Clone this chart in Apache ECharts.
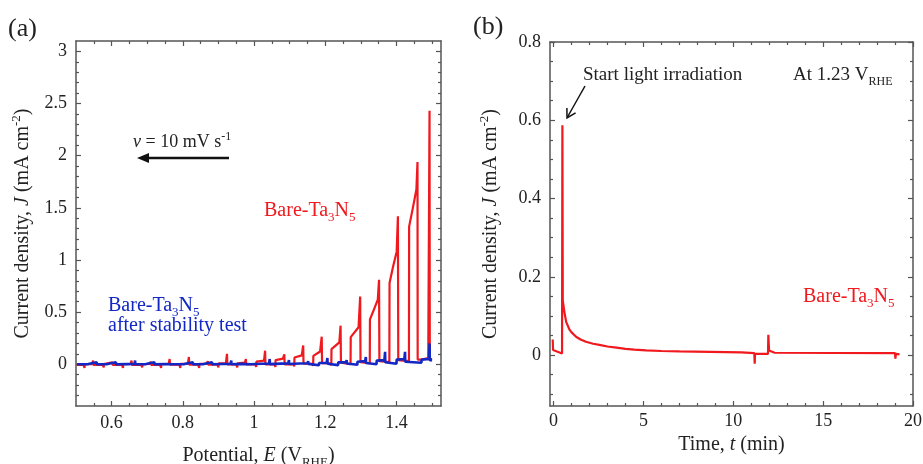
<!DOCTYPE html>
<html><head><meta charset="utf-8">
<script src="https://cdn.jsdelivr.net/npm/echarts@6/dist/echarts.min.js"></script>
<style>html,body{margin:0;padding:0;background:#fff}#c{width:923px;height:464px}</style>
</head><body><div id="c"></div>
<script>
// ---------- tick values / labels ----------
const potentialTicks = [0.6, 0.8, 1.0, 1.2, 1.4];
const potentialMinorTicks = [0.55, 0.65, 0.7, 0.75, 0.85, 0.9, 0.95, 1.05, 1.1, 1.15, 1.25, 1.3, 1.35, 1.45, 1.5];
const currentTicksA = [0, 0.5, 1, 1.5, 2, 2.5, 3];
const currentMinorTicksA = [-0.3, -0.2, -0.1, 0.1, 0.2, 0.3, 0.4, 0.6, 0.7, 0.8, 0.9, 1.1, 1.2, 1.3, 1.4, 1.6, 1.7, 1.8, 1.9, 2.1, 2.2, 2.3, 2.4, 2.6, 2.7, 2.8, 2.9];
const timeTicks = [0, 5, 10, 15, 20];
const timeMinorTicks = [1, 2, 3, 4, 6, 7, 8, 9, 11, 12, 13, 14, 16, 17, 18, 19];
const currentTicksB = [0, 0.2, 0.4, 0.6, 0.8];
const currentMinorTicksB = [-0.1, -0.05, 0.05, 0.1, 0.15, 0.25, 0.3, 0.35, 0.45, 0.5, 0.55, 0.65, 0.7, 0.75];

// ---------- (a) chopped LSV, Bare-Ta3N5: [E (V_RHE), J (mA cm-2)] ----------
const bareLSV = [
  [1.500, 0.05], [1.4935, 0.05], [1.4928, 2.43], [1.4892, 0.06],
  [1.470, 0.045], [1.4595, 0.045],
  [1.459, 1.94], [1.456, 1.68], [1.446, 1.50], [1.4355, 1.32], [1.435, 0.03], [1.432, 0.04],
  [1.405, 0.04],
  [1.404, 1.42], [1.4005, 1.08], [1.390, 0.93], [1.3805, 0.78], [1.380, 0.02], [1.377, 0.03],
  [1.352, 0.03],
  [1.351, 0.81], [1.3475, 0.62], [1.336, 0.52], [1.3255, 0.43], [1.325, 0.01], [1.322, 0.02],
  [1.299, 0.02],
  [1.298, 0.65], [1.2935, 0.355], [1.2715, 0.26], [1.271, 0.0], [1.268, 0.015],
  [1.244, 0.015],
  [1.243, 0.37], [1.2395, 0.21], [1.2175, 0.145], [1.217, -0.01], [1.214, 0.01],
  [1.191, 0.01],
  [1.190, 0.265], [1.1855, 0.123], [1.1665, 0.08], [1.166, -0.015], [1.163, 0.005],
  [1.139, 0.005],
  [1.138, 0.18], [1.134, 0.085], [1.1135, 0.065], [1.113, -0.02], [1.110, 0.0],
  [1.086, 0.0],
  [1.085, 0.095], [1.081, 0.055], [1.0605, 0.04], [1.060, -0.025], [1.057, 0.0],
  [1.032, 0.0],
  [1.031, 0.13], [1.028, 0.035], [1.0065, 0.025], [1.006, -0.025], [1.003, 0.0],
  [0.978, 0.0],
  [0.977, 0.05], [0.974, 0.015], [0.9535, 0.01], [0.953, -0.03], [0.950, -0.002],
  [0.925, -0.002],
  [0.924, 0.10], [0.921, 0.01], [0.9005, 0.008], [0.900, -0.03], [0.897, -0.003],
  [0.871, -0.003],
  [0.870, 0.03], [0.867, 0.005], [0.8465, 0.004], [0.846, -0.035], [0.843, -0.004],
  [0.818, -0.004],
  [0.817, 0.07], [0.814, 0.005], [0.7935, 0.003], [0.793, -0.035], [0.790, -0.004],
  [0.764, -0.004],
  [0.763, 0.05], [0.760, 0.004], [0.7395, 0.002], [0.739, -0.035], [0.736, -0.005],
  [0.711, -0.005],
  [0.710, 0.025], [0.707, 0.003], [0.6865, 0.002], [0.686, -0.03], [0.683, -0.005],
  [0.657, -0.005],
  [0.656, 0.036], [0.653, 0.003], [0.6325, 0.002], [0.632, -0.035], [0.629, -0.005],
  [0.603, -0.005],
  [0.602, 0.02], [0.599, 0.002], [0.5785, 0.001], [0.578, -0.03], [0.575, -0.005],
  [0.549, -0.005],
  [0.548, 0.036], [0.545, 0.002], [0.5245, 0.001], [0.524, -0.035], [0.521, -0.005],
  [0.502, -0.005]
];

// ---------- (a) Bare-Ta3N5 after stability test ----------
const afterStabilityLSV = [
  [1.500, 0.04], [1.4935, 0.04], [1.493, 0.20], [1.491, 0.05], [1.4705, 0.045], [1.470, 0.015], [1.467, 0.03],
  [1.4245, 0.025], [1.424, 0.12], [1.422, 0.05], [1.4005, 0.045], [1.400, 0.005], [1.397, 0.02],
  [1.3685, 0.02], [1.368, 0.12], [1.366, 0.04], [1.3445, 0.035], [1.344, 0.0], [1.341, 0.015],
  [1.3145, 0.012], [1.314, 0.07], [1.312, 0.03], [1.2905, 0.025], [1.290, -0.005], [1.287, 0.01],
  [1.2605, 0.008], [1.260, 0.04], [1.258, 0.02], [1.2365, 0.018], [1.236, -0.008], [1.233, 0.006],
  [1.2065, 0.005], [1.206, 0.06], [1.204, 0.015], [1.1825, 0.012], [1.182, -0.01], [1.179, 0.004],
  [1.1525, 0.004], [1.152, 0.03], [1.150, 0.01], [1.1285, 0.008], [1.128, -0.01], [1.125, 0.003],
  [1.0985, 0.003], [1.098, 0.04], [1.096, 0.008], [1.0745, 0.006], [1.074, -0.012], [1.071, 0.002],
  [1.0445, 0.002], [1.044, 0.05], [1.042, 0.006], [1.0205, 0.005], [1.020, -0.012], [1.017, 0.001],
  [0.9905, 0.001], [0.990, 0.02], [0.988, 0.005], [0.9665, 0.004], [0.966, -0.012], [0.963, 0.0],
  [0.9365, 0.0], [0.936, 0.035], [0.934, 0.004], [0.9125, 0.003], [0.912, -0.012], [0.909, 0.0],
  [0.8825, 0.0], [0.882, 0.02], [0.880, 0.003], [0.8585, 0.002], [0.858, -0.012], [0.855, 0.0],
  [0.8285, 0.0], [0.828, 0.02], [0.826, 0.003], [0.8045, 0.002], [0.804, -0.012], [0.801, 0.0],
  [0.7745, 0.0], [0.774, 0.015], [0.772, 0.003], [0.7505, 0.002], [0.750, -0.012], [0.747, 0.0],
  [0.7205, 0.0], [0.720, 0.02], [0.718, 0.003], [0.6965, 0.002], [0.696, -0.012], [0.693, 0.0],
  [0.6665, 0.0], [0.666, 0.035], [0.664, 0.003], [0.6425, 0.002], [0.642, -0.012], [0.639, 0.0],
  [0.6125, 0.0], [0.612, 0.02], [0.610, 0.003], [0.5885, 0.002], [0.588, -0.012], [0.585, 0.0],
  [0.5585, 0.0], [0.558, 0.02], [0.556, 0.003], [0.5345, 0.002], [0.534, -0.012], [0.531, 0.0],
  [0.503, 0.0]
];

// ---------- (b) chronoamperometry at 1.23 V_RHE: [t (min), J (mA cm-2)] ----------
const bareCA = [
  [-0.05, 0.04], [-0.03, 0.013], [0.47, 0.004], [0.49, 0.587], [0.51, 0.14],
  [0.6, 0.11], [0.7, 0.085], [0.875, 0.066], [1.0, 0.058], [1.25, 0.047], [1.5, 0.04],
  [1.8, 0.034], [2.2, 0.029], [2.55, 0.026], [3.0, 0.022], [3.5, 0.019], [4.0, 0.016],
  [4.5, 0.014], [5.15, 0.012], [6.0, 0.0105], [7.0, 0.0094], [7.05, 0.0075], [10.45, 0.0068],
  [10.5, 0.0055], [11.17, 0.005], [11.19, -0.022], [11.21, 0.003], [11.93, 0.003], [11.95, 0.052],
  [11.99, 0.012], [12.3, 0.006], [19.0, 0.005], [19.02, -0.009], [19.05, 0.003], [19.25, 0.002]
];

// ---------- styling ----------
const FONT = 'Liberation Serif';
const FRAME = '#555';
const RED = '#f0191e';
const BLUE = '#1227c4';
const TXT = '#222';

function rich(size, color) {
  const lh = Math.round(size * 1.3), s = Math.round(size * 0.65);
  return {
    n: { fontFamily: FONT, fontSize: size, color, fill: color, lineHeight: lh },
    i: { fontFamily: FONT, fontSize: size, color, fill: color, fontStyle: 'italic', lineHeight: lh },
    sub: { fontFamily: FONT, fontSize: s, color, fill: color, verticalAlign: 'bottom', lineHeight: s },
    sup: { fontFamily: FONT, fontSize: s, color, fill: color, verticalAlign: 'top', lineHeight: s }
  };
}

function fmt(v) { return String(Math.round(v * 1000) / 1000); }

function ax(gridIndex, min, max, position, ticks, len, extra) {
  return Object.assign({
    type: 'value', gridIndex, min, max, position,
    axisLine: { show: false, onZero: false },
    splitLine: { show: false },
    axisTick: { show: true, inside: true, length: len, customValues: ticks, lineStyle: { color: FRAME, width: 1.2 } },
    axisLabel: { show: false },
    silent: true
  }, extra || {});
}
function mainAx(gridIndex, min, max, position, ticks, labelMargin, name, nameGap) {
  return ax(gridIndex, min, max, position, ticks, 5, {
    axisLine: { show: true, onZero: false, lineStyle: { color: FRAME, width: 1.5 } },
    axisLabel: { show: true, customValues: ticks, formatter: fmt, fontFamily: FONT, fontSize: 18, color: TXT, margin: labelMargin },
    name, nameLocation: 'middle', nameGap, nameTextStyle: { rich: rich(20, TXT) }
  });
}
function frameAx(gridIndex, min, max, position, ticks) {
  return ax(gridIndex, min, max, position, ticks, 5, {
    axisLine: { show: true, onZero: false, lineStyle: { color: FRAME, width: 1.5 } }
  });
}

const aX = [0.5, 1.525], aY = [-0.4, 3.1];
const bX = [-0.2, 20], bY = [-0.13, 0.8];
const nameY = '{n|Current density, }{i|J}{n| (mA cm}{sup|-2}{n|)}';

const option = {
  animation: false,
  backgroundColor: '#fff',
  grid: [
    { left: 76, top: 41, width: 365, height: 365, containLabel: false, outerBoundsMode: 'none' },
    { left: 550, top: 42, width: 363, height: 364, containLabel: false, outerBoundsMode: 'none' }
  ],
  xAxis: [
    mainAx(0, aX[0], aX[1], 'bottom', potentialTicks, 8, '{n|Potential, }{i|E}{n| (V}{sub|RHE}{n|)}', 37), // 0
    ax(0, aX[0], aX[1], 'bottom', potentialMinorTicks, 3),
    frameAx(0, aX[0], aX[1], 'top', potentialTicks),
    ax(0, aX[0], aX[1], 'top', potentialMinorTicks, 3),
    mainAx(1, bX[0], bX[1], 'bottom', timeTicks, 6, '{n|Time, }{i|t}{n| (min)}', 25),                      // 4
    ax(1, bX[0], bX[1], 'bottom', timeMinorTicks, 3),
    frameAx(1, bX[0], bX[1], 'top', timeTicks),
    ax(1, bX[0], bX[1], 'top', timeMinorTicks, 3)
  ],
  yAxis: [
    mainAx(0, aY[0], aY[1], 'left', currentTicksA, 9, nameY, 40),                                         // 0
    ax(0, aY[0], aY[1], 'left', currentMinorTicksA, 3),
    frameAx(0, aY[0], aY[1], 'right', currentTicksA),
    ax(0, aY[0], aY[1], 'right', currentMinorTicksA, 3),
    mainAx(1, bY[0], bY[1], 'left', currentTicksB, 9, nameY, 46),                                         // 4
    ax(1, bY[0], bY[1], 'left', currentMinorTicksB, 3),
    frameAx(1, bY[0], bY[1], 'right', currentTicksB),
    ax(1, bY[0], bY[1], 'right', currentMinorTicksB, 3)
  ],
  series: [
    { name: 'Bare-Ta3N5', type: 'line', xAxisIndex: 0, yAxisIndex: 0, data: bareLSV, showSymbol: false, symbol: 'none',
      lineStyle: { color: RED, width: 2.2 }, z: 2, clip: true },
    { name: 'Bare-Ta3N5 after stability test', type: 'line', xAxisIndex: 0, yAxisIndex: 0, data: afterStabilityLSV, showSymbol: false, symbol: 'none',
      lineStyle: { color: BLUE, width: 2.6 }, z: 3, clip: true },
    { name: 'Bare-Ta3N5 CA', type: 'line', xAxisIndex: 4, yAxisIndex: 4, data: bareCA, showSymbol: false, symbol: 'none',
      lineStyle: { color: RED, width: 2.2 }, z: 2, clip: true }
  ],
  graphic: [
    { type: 'text', x: 8, y: 29, style: { text: '(a)', font: '26px "Liberation Serif"', fill: TXT, verticalAlign: 'middle' } },
    { type: 'text', x: 473, y: 27, style: { text: '(b)', font: '26px "Liberation Serif"', fill: TXT, verticalAlign: 'middle' } },
    { type: 'text', x: 133, y: 142, style: { text: '{i|v}{n| = 10 mV s}{sup|-1}', rich: rich(18, TXT), verticalAlign: 'middle' } },
    { type: 'line', shape: { x1: 229, y1: 158, x2: 146, y2: 158 }, style: { stroke: '#111', lineWidth: 2.5 } },
    { type: 'polygon', shape: { points: [[137, 158], [149, 153], [149, 163]] }, style: { fill: '#111' } },
    { type: 'text', x: 264, y: 211, style: { text: '{n|Bare-Ta}{sub|3}{n|N}{sub|5}', rich: rich(20, RED), fill: RED, verticalAlign: 'middle' } },
    { type: 'text', x: 108, y: 306, style: { text: '{n|Bare-Ta}{sub|3}{n|N}{sub|5}', rich: rich(20, BLUE), fill: BLUE, verticalAlign: 'middle' } },
    { type: 'text', x: 108, y: 326, style: { text: 'after stability test', font: '20px "Liberation Serif"', fill: BLUE, verticalAlign: 'middle' } },
    { type: 'text', x: 583, y: 75, style: { text: 'Start light irradiation', font: '19px "Liberation Serif"', fill: TXT, verticalAlign: 'middle' } },
    { type: 'text', x: 793, y: 75, style: { text: '{n|At 1.23 V}{sub|RHE}', rich: rich(19, TXT), verticalAlign: 'middle' } },
    { type: 'line', shape: { x1: 585, y1: 86, x2: 567.5, y2: 117 }, style: { stroke: '#111', lineWidth: 1.5 } },
    { type: 'polyline', shape: { points: [[575.6, 112.9], [567, 118], [566.9, 108]] }, style: { stroke: '#111', lineWidth: 1.5, fill: null } },
    { type: 'text', x: 803, y: 297, style: { text: '{n|Bare-Ta}{sub|3}{n|N}{sub|5}', rich: rich(20, RED), fill: RED, verticalAlign: 'middle' } }
  ]
};

const chart = echarts.init(document.getElementById('c'), null, { renderer: 'canvas' });
chart.setOption(option);
</script>
</body></html>
